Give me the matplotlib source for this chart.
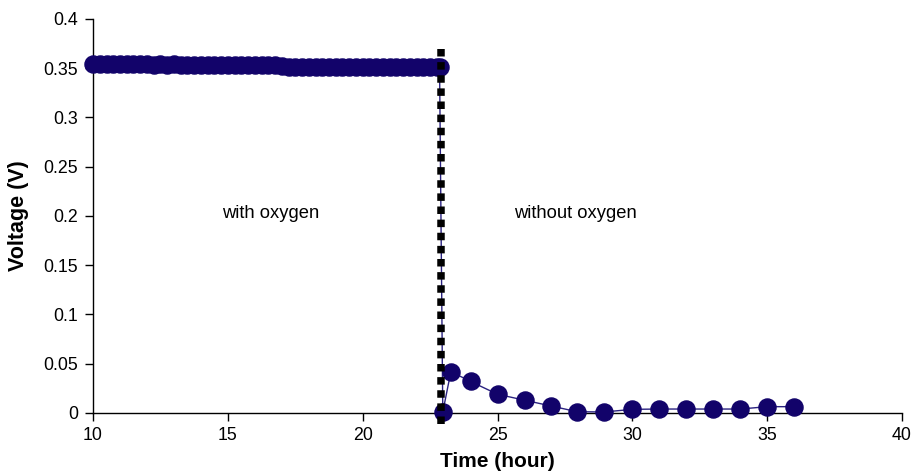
import matplotlib
matplotlib.use("Agg")
import matplotlib.pyplot as plt

plt.rcParams['font.family'] = ['Liberation Sans', 'DejaVu Sans']

time_h = [10.0, 10.25, 10.5, 10.75, 11.0, 11.25, 11.5, 11.75, 12.0, 12.25, 12.5,
          12.75, 13.0, 13.25, 13.5, 13.75, 14.0, 14.25, 14.5, 14.75, 15.0, 15.25,
          15.5, 15.75, 16.0, 16.25, 16.5, 16.75, 17.0, 17.25, 17.5, 17.75, 18.0,
          18.25, 18.5, 18.75, 19.0, 19.25, 19.5, 19.75, 20.0, 20.25, 20.5, 20.75,
          21.0, 21.25, 21.5, 21.75, 22.0, 22.25, 22.5, 22.75, 22.85,
          22.97, 23.27, 24.0, 25.0, 26.0, 27.0, 27.95, 28.95, 30.0, 31.0, 32.0,
          33.0, 34.0, 35.0, 36.0]
voltage = [0.354, 0.354, 0.354, 0.354, 0.354, 0.354, 0.354, 0.354, 0.354, 0.353, 0.354,
           0.353, 0.354, 0.353, 0.353, 0.353, 0.353, 0.353, 0.353, 0.353, 0.353, 0.353,
           0.353, 0.353, 0.353, 0.353, 0.353, 0.353, 0.352, 0.351, 0.351, 0.351, 0.351,
           0.351, 0.351, 0.351, 0.351, 0.351, 0.351, 0.351, 0.351, 0.351, 0.351, 0.351,
           0.351, 0.351, 0.351, 0.351, 0.351, 0.351, 0.351, 0.351, 0.351,
           0.001, 0.042, 0.032, 0.019, 0.013, 0.007, 0.0013, 0.001, 0.0037, 0.004, 0.004,
           0.004, 0.004, 0.0064, 0.0064]

switch_time = 22.9
switch_span = [-0.011, 0.374]
labels = ["with oxygen", "without oxygen"]
label_x = [14.8, 25.6]
label_y = 0.203

fig = plt.figure(figsize=(9.14, 4.76), dpi=100)
ax = fig.add_axes([0.1018, 0.1324, 0.8851, 0.8277])

ax.plot(time_h, voltage, color='#2a2280', linewidth=1.0, marker='o',
        markersize=12.3, markerfacecolor='#12036a', markeredgecolor='#12036a',
        zorder=3, clip_on=False)
ax.plot([switch_time, switch_time], switch_span, color='black', linewidth=5.4,
        linestyle=(0, (1, 0.75)), zorder=4, clip_on=False)

for lx, lt in zip(label_x, labels):
    ax.text(lx, label_y, lt, fontsize=13.2, ha='left', va='center')

ax.set_xlim(10, 40)
ax.set_ylim(0, 0.4)
ax.set_xticks([10, 15, 20, 25, 30, 35, 40])
ax.set_yticks([0, 0.05, 0.1, 0.15, 0.2, 0.25, 0.3, 0.35, 0.4])
ax.set_yticklabels(['0', '0.05', '0.1', '0.15', '0.2', '0.25', '0.3', '0.35', '0.4'])
ax.spines['top'].set_visible(False)
ax.spines['right'].set_visible(False)
ax.spines['left'].set_linewidth(1.0)
ax.spines['bottom'].set_linewidth(1.0)
ax.tick_params(axis='both', labelsize=12.8, direction='out', length=6, width=1.0)
ax.tick_params(axis='y', pad=5)
ax.tick_params(axis='x', pad=4)
ax.set_xlabel('Time (hour)', fontsize=15, fontweight='bold', labelpad=6)
ax.set_ylabel('Voltage (V)', fontsize=15.5, fontweight='bold', labelpad=10)

fig.savefig('out.png', dpi=100)
